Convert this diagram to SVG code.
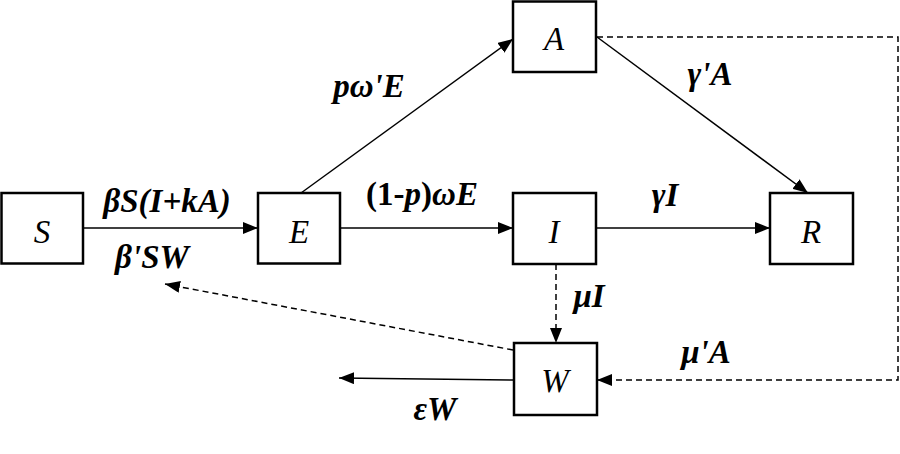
<svg xmlns="http://www.w3.org/2000/svg" width="900" height="454" viewBox="0 0 900 454">
<style>
.box{fill:#fff;stroke:#000;stroke-width:2.5}
.nl{font-family:'Liberation Serif','Times New Roman',serif;font-style:italic;font-size:33px;text-anchor:middle}
.lb{font-family:'Liberation Serif','Times New Roman',serif;font-style:italic;font-weight:bold;font-size:33px;text-anchor:middle}
.up{font-style:normal}
.ln{fill:none;stroke:#000;stroke-width:1.5}
.da{stroke-dasharray:6 4}
</style>
<defs>
<marker id="ah" markerUnits="userSpaceOnUse" markerWidth="16" markerHeight="12" refX="15" refY="6" orient="auto">
<path d="M0,0 L15,6 L0,12 z" fill="#000"/>
</marker>
</defs>
<rect width="900" height="454" fill="#fff"/>
<g id="connectors">
<line class="ln" x1="83" y1="228" x2="258" y2="228" marker-end="url(#ah)"/>
<line class="ln" x1="340" y1="228" x2="513" y2="228" marker-end="url(#ah)"/>
<line class="ln" x1="596" y1="228" x2="770" y2="228" marker-end="url(#ah)"/>
<line class="ln" x1="301" y1="193" x2="513" y2="39" marker-end="url(#ah)"/>
<line class="ln" x1="597" y1="37" x2="808" y2="193" marker-end="url(#ah)"/>
<line class="ln da" x1="556" y1="264" x2="556" y2="343" marker-end="url(#ah)"/>
<polyline class="ln da" points="597,37 898,37 898,380 597,380" marker-end="url(#ah)"/>
<line class="ln da" x1="513" y1="350" x2="165" y2="284" marker-end="url(#ah)"/>
<line class="ln" x1="513" y1="380" x2="339" y2="378" marker-end="url(#ah)"/>
</g>
<g id="S"><rect class="box" x="1.5" y="193" width="81.5" height="70.5"/><text class="nl" x="42" y="243">S</text></g>
<g id="E"><rect class="box" x="258" y="193" width="82" height="70.5"/><text class="nl" x="299" y="243">E</text></g>
<g id="A"><rect class="box" x="513" y="1.5" width="83" height="70.5"/><text class="nl" x="554" y="50">A</text></g>
<g id="I"><rect class="box" x="513" y="193" width="83" height="71"/><text class="nl" x="554" y="243">I</text></g>
<g id="R"><rect class="box" x="770" y="193" width="83" height="71"/><text class="nl" x="811" y="243">R</text></g>
<g id="W"><rect class="box" x="514" y="343" width="83" height="72"/><text class="nl" x="555" y="392">W</text></g>
<g id="labels">
<text class="lb" x="167" y="212">βS(I+kA)</text>
<text class="lb" x="152" y="268">β'SW</text>
<text class="lb" x="369" y="97">pω'E</text>
<text class="lb" x="422" y="205"><tspan class="up">(1-</tspan>p<tspan class="up">)</tspan>ωE</text>
<text class="lb" x="710" y="85">γ'A</text>
<text class="lb" x="665" y="206">γI</text>
<text class="lb" x="589" y="307">μI</text>
<text class="lb" x="706" y="363">μ'A</text>
<text class="lb" x="435" y="420">εW</text>
</g>
</svg>
